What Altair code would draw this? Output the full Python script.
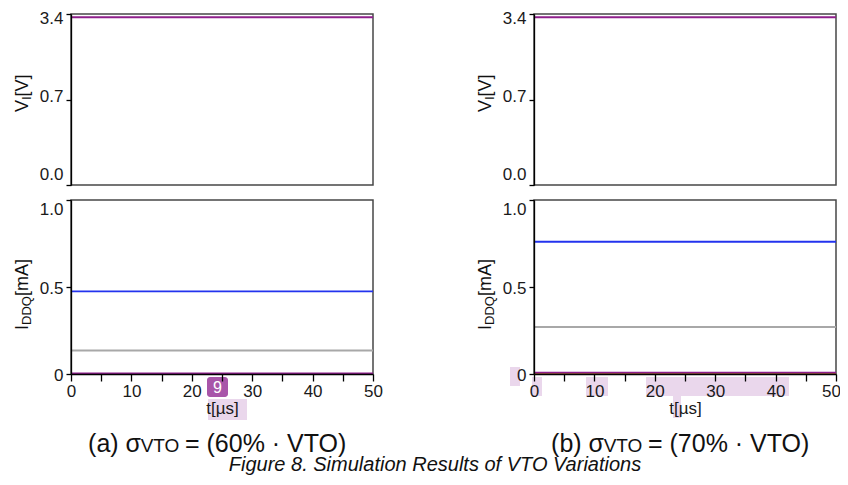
import altair as alt
import pandas as pd

FONT = "Liberation Sans"

# ---------------- data ----------------
t_us = [0, 50]

series_names = ["gray", "blue", "orange", "purple"]
series_colors = ["#a8a8a8", "#2333ee", "#b8860b", "#8e1f8b"]

vi_a_purple = [3.3, 3.3]
vi_b_purple = [3.3, 3.3]

iddq_a_blue = [0.475, 0.475]
iddq_a_gray = [0.135, 0.135]
iddq_a_purple = [0.004, 0.004]

iddq_b_blue = [0.76, 0.76]
iddq_b_gray = [0.27, 0.27]
iddq_b_orange = [0.0, 0.0]
iddq_b_purple = [0.008, 0.008]

vi_ticks = [0.0, 0.7, 3.4]
iddq_ticks = [0.0, 0.5, 1.0]
t_ticks = [0, 5, 10, 15, 20, 25, 30, 35, 40, 45, 50]

caption_a = ["(a) σ", "VTO", "= (60% · VTO)"]
caption_b = ["(b) σ", "VTO", "= (70% · VTO)"]
figure_title = "Figure 8. Simulation Results of VTO Variations"

W, HT, HB = 302, 171, 174


def frame(**series):
    rows = []
    for name, vals in series.items():
        for t, v in zip(t_us, vals):
            rows.append({"t": t, "v": v, "series": name})
    return pd.DataFrame(rows)


color_enc = alt.Color("series:N", scale=alt.Scale(domain=series_names, range=series_colors), legend=None)


def txt(text, x, y, size, align="left", angle=0, color="#111111", style="normal"):
    return alt.Chart(alt.Data(values=[{}])).mark_text(
        text=text, fontSize=size, align=align, angle=angle, color=color,
        font=FONT, fontStyle=style, baseline="alphabetic"
    ).encode(x=alt.value(x), y=alt.value(y))


def hl(x0, x1, y0, y1, color="#ead7ec", r=0):
    return alt.Chart(alt.Data(values=[{}])).mark_rect(color=color, cornerRadius=r).encode(
        x=alt.value(x0), x2=alt.value(x1), y=alt.value(y0), y2=alt.value(y1)
    )


def ytitle_vi(x=-43, start=98):
    return [
        txt("V", x, start, 18, angle=270),
        txt("I", x + 3, start - 12, 13, angle=270),
        txt("[V]", x, start - 15.6, 18, angle=270),
    ]


def ytitle_iddq(x=-43, start=130):
    return [
        txt("I", x, start, 18, angle=270),
        txt("DDQ", x + 3, start - 5, 13, angle=270),
        txt("[mA]", x, start - 34, 18, angle=270),
    ]


def caption(parts):
    return [
        txt(parts[0], 70, 252, 25, align="right"),
        txt(parts[1], 89, 252, 19, align="center"),
        txt(parts[2], 114, 252, 25, align="left"),
    ]


x_scale = alt.Scale(domain=[0, 50], nice=False, zero=False)

top_label_offset = {"condition": [{"test": "datum.value == 0", "value": -11},
                                  {"test": "datum.value > 3", "value": 4}],
                    "value": -3}
bot_label_offset = {"condition": [{"test": "datum.value == 1", "value": 9}], "value": 1}


def top_panel(df):
    lines = alt.Chart(df).mark_line(strokeWidth=2).encode(
        x=alt.X("t:Q", scale=x_scale, axis=None),
        y=alt.Y("v:Q",
                scale=alt.Scale(domain=vi_ticks, range=[HT, HT / 2, 0], nice=False, zero=False),
                axis=alt.Axis(values=vi_ticks, format=".1f", title=None, tickSize=5,
                              labelPadding=3, grid=False, zindex=1, labelOffset=top_label_offset)),
        color=color_enc,
    )
    return alt.layer(lines, *ytitle_vi()).properties(width=W, height=HT)


def bottom_panel(df, extras_back, extras_front, last_label_shift=0):
    x_label_offset = {"condition": [{"test": "datum.value == 50", "value": last_label_shift}], "value": 0}
    lines = alt.Chart(df).mark_line(strokeWidth=1.8).encode(
        x=alt.X("t:Q", scale=x_scale,
                axis=alt.Axis(values=t_ticks, labelExpr="datum.value % 10 == 0 ? datum.label : ''",
                              title="t[µs]", tickSize=7, labelPadding=2, titlePadding=1,
                              labelFlush=False, labelOverlap=False, grid=False, zindex=1,
                              labelOffset=x_label_offset)),
        y=alt.Y("v:Q", scale=alt.Scale(domain=[0, 1], nice=False, zero=False),
                axis=alt.Axis(values=iddq_ticks,
                              labelExpr="datum.value == 0 ? '0' : format(datum.value, '.1f')",
                              title=None, tickSize=5, labelPadding=3, grid=False, zindex=1,
                              labelOffset=bot_label_offset)),
        color=color_enc,
    )
    return alt.layer(*extras_back, lines, *ytitle_iddq(), *extras_front).properties(width=W, height=HB)


top_a = top_panel(frame(purple=vi_a_purple))
top_b = top_panel(frame(purple=vi_b_purple))

bot_a = bottom_panel(
    frame(gray=iddq_a_gray, blue=iddq_a_blue, purple=iddq_a_purple),
    [hl(137, 176, 199, 220)],
    [hl(136, 157, 177, 197, color="#a855a9", r=3),
     txt("9", 146.5, 193, 16, align="center", color="white"),
     *caption(caption_a),
     txt(figure_title, 364, 271, 20, align="center", style="italic")],
)

bot_b = bottom_panel(
    frame(gray=iddq_b_gray, blue=iddq_b_blue, orange=iddq_b_orange, purple=iddq_b_purple),
    [hl(-24, -14, 167, 186), hl(-2, 8, 177, 196), hl(52, 74, 177, 196),
     hl(112, 255, 177, 196), hl(139, 147, 196, 218)],
    [*caption(caption_b)],
    last_label_shift=-5,
)

chart = alt.concat(
    top_a, top_b, bot_a, bot_b,
    columns=2, spacing={"row": 15, "column": 161}, bounds="flush",
).properties(
    padding={"left": 5, "top": 0, "right": -2, "bottom": 1}
).configure_view(
    stroke="#474747", strokeWidth=1.5
).configure_axis(
    labelFont=FONT, labelFontSize=17, labelColor="#1a1a1a",
    titleFont=FONT, titleFontSize=17, titleFontWeight="normal", titleColor="#1a1a1a",
    domainColor="#000000", tickColor="#000000", domainWidth=1.3, tickWidth=1.3,
)

chart.save("out.html", embed_options={"renderer": "svg", "actions": False})
